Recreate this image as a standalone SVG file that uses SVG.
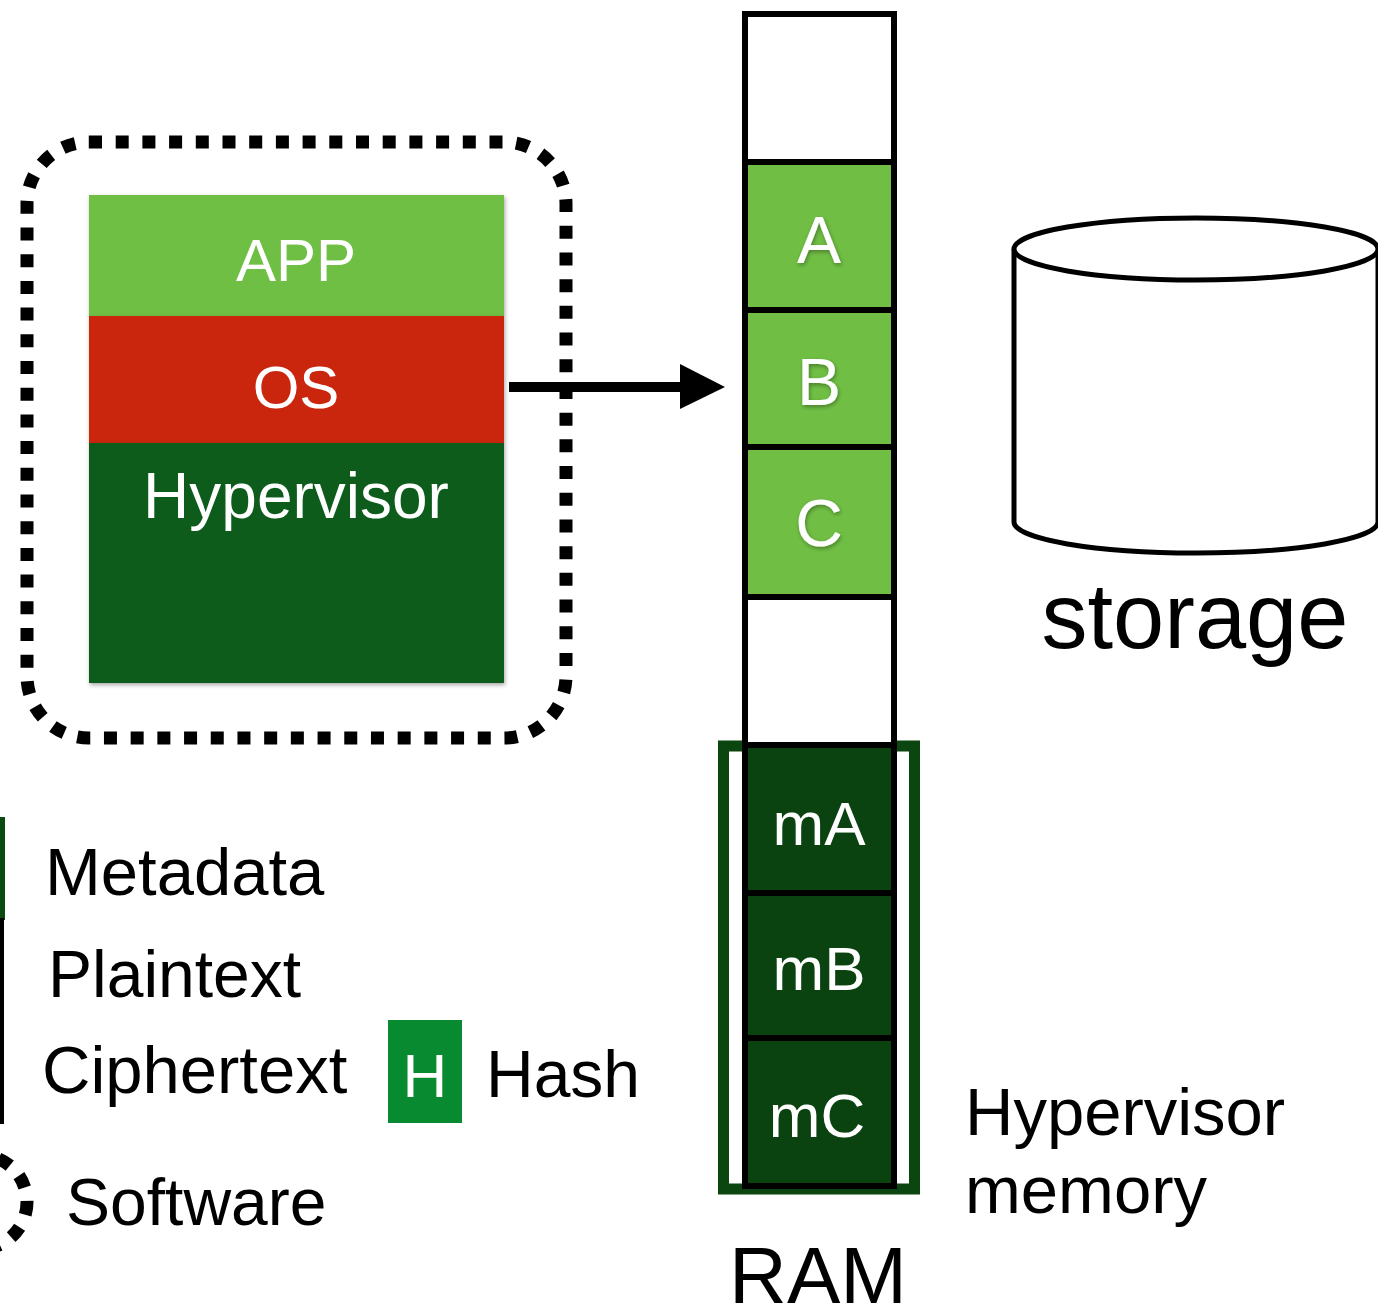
<svg xmlns="http://www.w3.org/2000/svg" width="1378" height="1307" viewBox="0 0 1378 1307">
<style>
.t{font-family:"Liberation Sans",Arial,sans-serif;}
.w{fill:#fff;text-anchor:middle;}
.k{fill:#000;}
.cell{stroke:#000;stroke-width:6;}
.dash{fill:none;stroke:#000;stroke-width:13;stroke-dasharray:13 13.7;}
</style>
<defs>
<filter id="sh" x="-10%" y="-10%" width="130%" height="130%">
<feDropShadow dx="1" dy="2" stdDeviation="2" flood-color="#000" flood-opacity="0.35"/>
</filter>
</defs>
<rect width="1378" height="1307" fill="#fff"/>

<g id="software">
<rect class="dash" x="27" y="142" width="539" height="596" rx="62" ry="62"/>
</g>

<g id="stack">
<rect x="89" y="195" width="415" height="121" fill="#70bf44" filter="url(#sh)"/>
<rect x="89" y="316" width="415" height="127" fill="#c9260a" filter="url(#sh)"/>
<rect x="89" y="443" width="415" height="240" fill="#0f5c1d" filter="url(#sh)"/>
<text class="t w" x="296" y="281" font-size="60">APP</text>
<text class="t w" x="296" y="408" font-size="60">OS</text>
<text class="t w" x="296" y="518" font-size="64">Hypervisor</text>
</g>

<g id="connectors">
<line x1="509" y1="387" x2="684" y2="387" stroke="#000" stroke-width="10"/>
<polygon points="680,364 725,387 680,409" fill="#000"/>
</g>

<g id="hypervisor-memory">
<rect x="723.5" y="746" width="191" height="443" fill="#fff" stroke="#0b4510" stroke-width="11"/>
</g>

<g id="ram">
<rect class="cell" x="745" y="14" width="149" height="148" fill="#fff"/>
<rect class="cell" x="745" y="162" width="149" height="148" fill="#70bf44"/>
<rect class="cell" x="745" y="310" width="149" height="137" fill="#70bf44"/>
<rect class="cell" x="745" y="447" width="149" height="150" fill="#70bf44"/>
<rect class="cell" x="745" y="597" width="149" height="148" fill="#fff"/>
<rect class="cell" x="745" y="745" width="149" height="148" fill="#0a4210"/>
<rect class="cell" x="745" y="893" width="149" height="145" fill="#0a4210"/>
<rect class="cell" x="745" y="1038" width="149" height="148" fill="#0a4210"/>
<text class="t w" x="819" y="263" font-size="66" filter="url(#sh)">A</text>
<text class="t w" x="819" y="405" font-size="66" filter="url(#sh)">B</text>
<text class="t w" x="819" y="546" font-size="66" filter="url(#sh)">C</text>
<text class="t w" x="819" y="845" font-size="62">mA</text>
<text class="t w" x="819" y="990" font-size="62">mB</text>
<text class="t w" x="817" y="1137" font-size="62">mC</text>
<text class="t k" x="818" y="1303" font-size="80" text-anchor="middle">RAM</text>
</g>

<g id="storage">
<path d="M1014,249 L1014,522 A182,31 0 0 0 1378,522 L1378,249" fill="#fff" stroke="#000" stroke-width="5"/>
<ellipse cx="1196" cy="249" rx="182" ry="31" fill="#fff" stroke="#000" stroke-width="5"/>
<text class="t k" x="1195" y="648" font-size="92" text-anchor="middle">storage</text>
</g>

<g id="hv-label">
<text class="t k" x="965" y="1135" font-size="67">Hypervisor</text>
<text class="t k" x="965" y="1213" font-size="67">memory</text>
</g>

<g id="legend">
<rect x="-100" y="817" width="105" height="103" fill="#0a4a10"/>
<rect x="-100" y="920" width="102" height="100" fill="#fff" stroke="#000" stroke-width="4"/>
<rect x="-100" y="1020" width="102" height="102" fill="#fff" stroke="#000" stroke-width="4"/>
<circle class="dash" cx="-20" cy="1202" r="47"/>
<rect x="388" y="1020" width="74" height="103" fill="#078a30"/>
<text class="t w" x="425" y="1097" font-size="62">H</text>
<text class="t k" x="45" y="895" font-size="67">Metadata</text>
<text class="t k" x="48" y="997" font-size="66">Plaintext</text>
<text class="t k" x="42" y="1093" font-size="67">Ciphertext</text>
<text class="t k" x="486" y="1097" font-size="66">Hash</text>
<text class="t k" x="66" y="1225" font-size="66">Software</text>
</g>
</svg>
